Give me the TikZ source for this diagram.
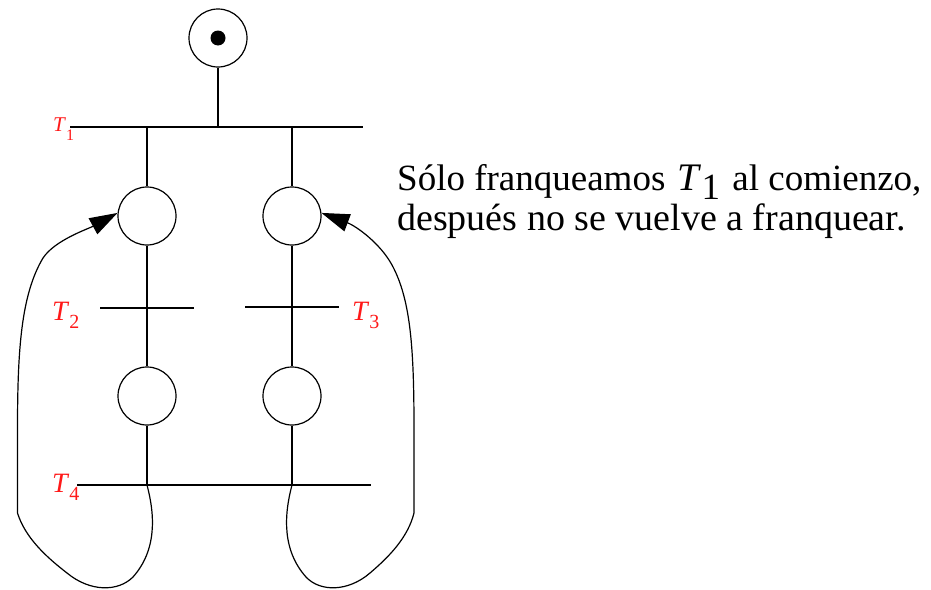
\documentclass[tikz,border=0pt]{standalone}
\usepackage{fontspec}
\setmainfont{Liberation Serif}
\usetikzlibrary{arrows.meta}
\definecolor{labred}{RGB}{255,25,25}
\tikzset{
  place/.style={circle, draw, line width=1.2pt, minimum size=58pt, inner sep=0pt},
  bar/.style={line width=2.6pt},
  arc/.style={line width=2.5pt},
  loop/.style={line width=1.2pt, -{Triangle[length=28pt,width=18pt]}},
  tlabel/.style={anchor=base west, inner sep=0pt, text=labred, font=\fontsize{28}{28}\selectfont},
  txt/.style={anchor=base west, inner sep=0pt, font=\fontsize{38}{40}\selectfont}
}
\begin{document}
\begin{tikzpicture}[x=1pt, y=-1pt]
\useasboundingbox (0,0) rectangle (931,589);
% places
\node[place] (p1) at (218,38) {};
\fill (p1.center) circle (7.5pt);
\node[place] (p2) at (147,216) {};
\node[place] (p3) at (292,216) {};
\node[place] (p4) at (147,396) {};
\node[place] (p5) at (292,396) {};
% transition bars
\coordinate (t1w) at (70,127);  \coordinate (t1e) at (363,127);
\coordinate (t2w) at (100,308); \coordinate (t2e) at (194,308);
\coordinate (t3w) at (245,307); \coordinate (t3e) at (339,307);
\coordinate (t4w) at (77,485);  \coordinate (t4e) at (371,485);
\draw[bar] (t1w) -- (t1e);
\draw[bar] (t2w) -- (t2e);
\draw[bar] (t3w) -- (t3e);
\draw[bar] (t4w) -- (t4e);
% junctions
\coordinate (j1) at (p1.south |- t1w);
\coordinate (j2) at (p2.north |- t1w);
\coordinate (j3) at (p3.north |- t1w);
\coordinate (j4) at (p4.south |- t4w);
\coordinate (j5) at (p5.south |- t4w);
% arcs
\draw[arc] (p1.south) -- (j1);
\draw[arc] (j2) -- (p2.north);
\draw[arc] (j3) -- (p3.north);
\draw[arc] (p2.south) -- (p4.north);
\draw[arc] (p3.south) -- (p5.north);
\draw[arc] (p4.south) -- (j4);
\draw[arc] (p5.south) -- (j5);
% loops
\draw[loop] (j4) .. controls (155,515) and (157,550) .. (133,577)
  .. controls (118,592) and (90,592) .. (67,573)
  .. controls (45,556) and (25,537) .. (17.5,513)
  -- (17.5,430)
  .. controls (17.5,350) and (21,295) .. (43,258)
  .. controls (55,240) and (88,229) .. (p2.174);
\draw[loop] (j5) .. controls (284,515) and (282,550) .. (306,577)
  .. controls (320,592) and (348,592) .. (370,573)
  .. controls (390,556) and (408,537) .. (414,513)
  -- (414,430)
  .. controls (414,350) and (411,300) .. (392,265)
  .. controls (380,243) and (356,226) .. (p3.6);
% labels
\node[tlabel, font=\fontsize{21}{21}\selectfont] (l1) at (53,131) {\textit{T}\raisebox{-9pt}{\fontsize{16}{16}\selectfont 1}};
\node[tlabel] (l2) at (52,320) {\textit{T}\raisebox{-8pt}{\fontsize{20}{20}\selectfont 2}};
\node[tlabel] (l3) at (352,320) {\textit{T}\raisebox{-8pt}{\fontsize{20}{20}\selectfont 3}};
\node[tlabel] (l4) at (52,492) {\textit{T}\raisebox{-8pt}{\fontsize{20}{20}\selectfont 4}};
% text
\node[txt, font=\fontsize{37}{40}\selectfont] (line1) at (397,190) {Sólo franqueamos\hspace{3pt} {\fontsize{39}{39}\selectfont\textit{T}}\raisebox{-9pt}{1}\hspace{3pt} al comienzo,};
\node[txt] (line2) at (397,230) {después no se vuelve a franquear.};
\end{tikzpicture}
\end{document}
